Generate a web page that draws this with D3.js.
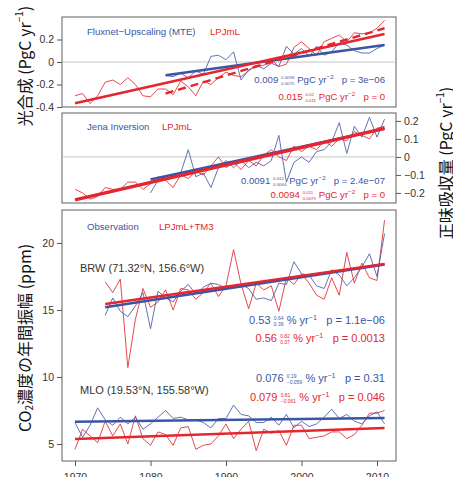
<!DOCTYPE html>
<html>
<head>
<meta charset="utf-8">
<script src="https://cdn.jsdelivr.net/npm/d3@7"></script>
<style>
  body { margin: 0; background: #fff; }
  svg { display: block; font-family: "Liberation Sans", Arial, sans-serif; }
</style>
</head>
<body>
<svg id="chart" width="453" height="477"></svg>
<script>
// ---- data ----
const years = [1970, 1975, 1980, 1985, 1990, 1995, 2000, 2005, 2010];
const xTickLabels = ['1970', '1980', '1990', '2000', '2010'];

// panel 1: photosynthesis anomaly (PgC/yr)
const lpjStart1 = 1970;
const lpjGpp = [-0.30, -0.28, -0.37, -0.30, -0.18, -0.16, -0.20, -0.14, -0.20, -0.30,
  -0.31, -0.24, -0.24, -0.29, -0.17, -0.22, -0.30, -0.17, -0.20, -0.14,
  -0.09, -0.12, -0.13, -0.08, -0.03, -0.03, 0.02, -0.04, -0.02, 0.13,
  0.18, 0.12, 0.06, 0.18, 0.21, 0.24, 0.18, 0.26, 0.25, 0.26, 0.30, 0.37];
const mteStart = 1982;
const mteGpp = [-0.12, -0.13, -0.10, -0.14, -0.08, -0.11, 0.05, 0.06, 0.02, 0.09,
  -0.16, -0.07, -0.03, -0.06, -0.01, -0.04, 0.14, 0.07, 0.12, 0.05,
  0.14, 0.06, 0.09, 0.17, 0.15, 0.10, 0.08, 0.08, 0.12, 0.15];
const trendLpjGpp = [[1970, -0.367], [2011, 0.248]];
const trendLpjGppShort = [[1982, -0.28], [2011, 0.30]];
const trendMte = [[1982, -0.118], [2011, 0.151]];
const ticks1 = [-0.4, -0.2, 0, 0.2];
const tickLabels1 = ['-0.4', '-0.2', '0', '0.2'];

// panel 2: net uptake (PgC/yr)
const lpjStart2 = 1970;
const lpjNep = [-0.18, -0.20, -0.235, -0.22, -0.17, -0.18, -0.18, -0.14, -0.14, -0.18,
  -0.15, -0.11, -0.13, -0.17, -0.10, -0.12, -0.08, -0.10, -0.05, 0.00,
  -0.06, -0.03, -0.07, -0.02, -0.05, 0.01, 0.04, 0.00, -0.02, 0.06,
  0.03, 0.06, 0.04, 0.09, 0.06, 0.10, 0.09, 0.14, 0.12, 0.10, 0.16, 0.17];
const jenaStart = 1980;
const jenaNep = [-0.20, -0.13, -0.11, -0.10, -0.09, 0.04, -0.11, -0.09, -0.17, -0.06,
  -0.02, -0.06, -0.02, -0.06, -0.03, -0.05, -0.02, 0.12, -0.14, -0.03,
  0.00, -0.03, 0.03, 0.04, 0.085, 0.19, 0.02, 0.17, 0.11, 0.22, 0.11, 0.21];
const trendLpjNep = [[1970, -0.239], [2011, 0.159]];
const trendJena = [[1980, -0.125], [2011, 0.157]];
const ticks2 = [-0.2, -0.1, 0, 0.1, 0.2];
const tickLabels2 = ['\u22120.2', '\u22120.1', '0', '0.1', '0.2'];

// panel 3: seasonal CO2 amplitude (ppm)
const brwStart = 1974;
const brwObs = [14.6, 15.9, 14.9, 14.5, 15.3, 16.3, 13.6, 16.4, 15.9, 15.6,
  16.4, 16.9, 16.2, 16.7, 17.0, 16.9, 16.6, 16.7, 16.9, 16.6,
  15.8, 15.9, 15.7, 17.0, 16.9, 18.6, 17.7, 17.6, 16.8, 16.6,
  18.0, 17.6, 16.8, 17.4, 18.2, 19.2, 17.5, 20.7];
const brwModel = [17.1, 16.3, 17.3, 10.7, 14.3, 16.6, 15.2, 15.6, 16.5, 15.0,
  16.6, 16.5, 15.8, 16.3, 17.0, 16.0, 16.8, 19.5, 16.9, 15.1,
  17.0, 16.5, 16.8, 14.9, 17.4, 16.9, 17.7, 17.0, 16.1, 15.8,
  17.4, 16.1, 19.3, 17.0, 18.5, 17.4, 17.2, 21.7];
const mloStart = 1970;
const mloObs = [6.6, 5.5, 6.4, 7.7, 6.8, 6.4, 7.0, 6.5, 7.0, 6.1,
  6.5, 7.0, 7.5, 6.9, 7.0, 6.8, 6.8, 6.6, 6.2, 6.9,
  6.9, 7.9, 7.2, 7.1, 6.6, 6.6, 7.0, 6.4, 7.2, 6.2,
  6.7, 6.3, 6.5, 7.0, 7.6, 6.9, 7.2, 6.7, 6.5, 7.1, 7.4, 6.5];
const mloModel = [4.6, 6.1, 5.6, 5.1, 6.7, 5.6, 6.5, 5.0, 7.1, 5.4,
  4.9, 5.9, 5.7, 4.9, 6.2, 6.3, 4.6, 4.9, 5.0, 5.6,
  6.5, 5.4, 6.1, 6.7, 4.5, 6.1, 5.8, 6.0, 4.9, 6.4,
  6.4, 5.4, 5.5, 5.6, 5.9, 5.9, 5.4, 5.7, 6.4, 7.3, 7.3, 7.5];
const trendBrwObs = [[1974, 15.2], [2011, 18.4]];
const trendBrwModel = [[1974, 15.45], [2011, 18.43]];
const trendMloObs = [[1970, 6.66], [2011, 6.94]];
const trendMloModel = [[1970, 5.37], [2011, 6.19]];
const ticks3 = [5, 10, 15, 20];

// ---- styling ----
const BLUE = '#3b55a5', RED = '#e3262f';
const BLUE_T = '#4f63a8', RED_T = '#e2343d';
const svg = d3.select('#chart');

const x = d3.scaleLinear().domain([1970, 2010]).range([75, 377]);
const left = 62, right = 396;

const y1 = d3.scaleLinear().domain([-0.4, 0.4]).range([107, 17]);
const y2 = d3.scaleLinear().domain([-0.256, 0.244]).range([203, 113]);
const y3 = d3.scaleLinear().domain([3.73, 22.46]).range([461, 210]);

function series(start, vals) { return vals.map((v, i) => [start + i, v]); }

function frame(y) {
  const [b, t] = y.range();
  svg.append('rect').attr('x', left).attr('y', t)
    .attr('width', right - left).attr('height', b - t)
    .attr('fill', '#fff').attr('stroke', '#6e6e6e').attr('stroke-width', 1.1);
}

function zero(y) {
  svg.append('line').attr('x1', left).attr('x2', right)
    .attr('y1', y(0)).attr('y2', y(0))
    .attr('stroke', '#c4c4c4').attr('stroke-width', 1);
}

function path(y, data, color, w, dash) {
  const line = d3.line().x(d => x(d[0])).y(d => y(d[1]));
  const p = svg.append('path').datum(data).attr('d', line)
    .attr('fill', 'none').attr('stroke', color).attr('stroke-width', w)
    .attr('stroke-linejoin', 'round');
  if (dash) p.attr('stroke-dasharray', dash);
}

function yAxis(y, ticks, labels, side) {
  const ax = (side === 'left' ? d3.axisLeft(y) : d3.axisRight(y))
    .tickValues(ticks).tickSize(5).tickPadding(3)
    .tickFormat((d, i) => labels[i]);
  const g = svg.append('g')
    .attr('transform', `translate(${side === 'left' ? left : right},0)`)
    .call(ax);
  g.select('.domain').remove();
  g.selectAll('line').attr('stroke', '#555');
  g.selectAll('text').attr('fill', '#333').style('font-size', '10.5px')
    .style('font-family', '"Liberation Sans", Arial, sans-serif');
}

function label(tx, ty, txt, color, size) {
  svg.append('text').attr('x', tx).attr('y', ty).attr('fill', color)
    .style('font-size', size + 'px').text(txt);
}

// stat line: main value, stacked small CI, unit with exponent, p value; right aligned
function stat(xr, yb, color, size, main, hi, lo, unit, exp, ptxt) {
  const g = svg.append('g').attr('fill', color);
  let cx = 0;
  const t1 = g.append('text').attr('x', cx).style('font-size', size + 'px').text(main);
  cx += t1.node().getComputedTextLength() + size * 0.3;
  const s = size * 0.45;
  const a = g.append('text').attr('x', cx).attr('y', -size * 0.38).style('font-size', s + 'px').text(hi);
  const b = g.append('text').attr('x', cx).attr('y', size * 0.22).style('font-size', s + 'px').text(lo);
  cx += Math.max(a.node().getComputedTextLength(), b.node().getComputedTextLength()) + size * 0.3;
  const t2 = g.append('text').attr('x', cx).style('font-size', size + 'px');
  t2.append('tspan').text(unit);
  t2.append('tspan').attr('dy', -size * 0.4).style('font-size', (size * 0.65) + 'px').text(exp);
  cx += t2.node().getComputedTextLength() + size * 0.85;
  const t3 = g.append('text').attr('x', cx).style('font-size', size + 'px').text(ptxt);
  cx += t3.node().getComputedTextLength();
  g.attr('transform', `translate(${xr - cx},${yb})`);
}

// ---- panel 1 ----
frame(y1);
zero(y1);
path(y1, series(lpjStart1, lpjGpp), RED_T, 0.9);
path(y1, series(mteStart, mteGpp), BLUE_T, 0.9);
path(y1, trendMte, BLUE, 2.4);
path(y1, trendLpjGppShort, RED, 2.4, '8,5');
path(y1, trendLpjGpp, RED, 2.6);
yAxis(y1, ticks1, tickLabels1, 'left');
label(87, 35, 'Fluxnet\u2212Upscaling (MTE)', BLUE, 9.6);
label(210, 35, 'LPJmL', RED, 9.6);
stat(385, 83, BLUE, 9.6, '0.009', '0.0098', '0.0075', 'PgC yr', '\u22122', 'p = 3e\u221206');
stat(385, 100, RED, 9.6, '0.015', '0.02', '0.011', 'PgC yr', '\u22122', 'p = 0');

// ---- panel 2 ----
frame(y2);
zero(y2);
path(y2, series(lpjStart2, lpjNep), RED_T, 0.9);
path(y2, series(jenaStart, jenaNep), BLUE_T, 0.9);
path(y2, trendJena, BLUE, 2.6);
path(y2, trendLpjNep, RED, 3.4);
yAxis(y2, ticks2, tickLabels2, 'right');
label(87, 130, 'Jena Inversion', BLUE, 9.6);
label(162, 130, 'LPJmL', RED, 9.6);
stat(385, 184, BLUE, 9.6, '0.0091', '0.012', '0.0064', 'PgC yr', '\u22122', 'p = 2.4e\u221207');
stat(385, 198, RED, 9.6, '0.0094', '0.011', '0.0079', 'PgC yr', '\u22122', 'p = 0');

// ---- panel 3 ----
frame(y3);
path(y3, series(brwStart, brwModel), RED_T, 0.9);
path(y3, series(brwStart, brwObs), BLUE_T, 0.9);
path(y3, series(mloStart, mloModel), RED_T, 0.9);
path(y3, series(mloStart, mloObs), BLUE_T, 0.9);
path(y3, trendBrwObs, BLUE, 2.6);
path(y3, trendBrwModel, RED, 2.6);
path(y3, trendMloObs, BLUE, 2.6);
path(y3, trendMloModel, RED, 2.6);
yAxis(y3, ticks3, ticks3.map(String), 'left');
label(87, 230, 'Observation', BLUE, 9.6);
label(159, 230, 'LPJmL+TM3', RED, 9.6);
label(80, 272, 'BRW (71.32\u00b0N, 156.6\u00b0W)', '#333', 11);
label(80, 394, 'MLO (19.53\u00b0N, 155.58\u00b0W)', '#333', 11);
stat(385, 324, BLUE, 11, '0.53', '0.64', '0.39', '% yr', '\u22121', 'p = 1.1e\u221206');
stat(385, 342, RED, 11, '0.56', '0.82', '0.37', '% yr', '\u22121', 'p = 0.0013');
stat(385, 382, BLUE, 11, '0.076', '0.19', '\u22120.059', '% yr', '\u22121', 'p = 0.31');
stat(385, 401, RED, 11, '0.079', '0.81', '\u22120.061', '% yr', '\u22121', 'p = 0.046');

// bottom axis
const xAx = svg.append('g').attr('transform', `translate(0,${y3.range()[0]})`)
  .call(d3.axisBottom(x).tickValues(years.filter((d, i) => i % 2 === 0))
    .tickSize(5).tickPadding(8).tickFormat((d, i) => xTickLabels[i]));
xAx.select('.domain').remove();
xAx.selectAll('line').attr('stroke', '#555');
xAx.selectAll('text').attr('fill', '#333').style('font-size', '10.5px')
  .style('font-family', '"Liberation Sans", Arial, sans-serif');

// axis titles
function vtitle(cx, cy, parts) {
  const t = svg.append('text')
    .attr('transform', `translate(${cx},${cy}) rotate(-90)`)
    .attr('text-anchor', 'middle').attr('dominant-baseline', 'central')
    .style('font-family', '"Noto Sans CJK JP", "Noto Sans", sans-serif')
    .style('font-size', '16px').attr('fill', '#111');
  parts.forEach(p => {
    const s = t.append('tspan').text(p.t);
    if (p.sup) s.attr('dy', -6).style('font-size', '10px');
    if (p.sub) s.attr('dy', 4).style('font-size', '10px');
    if (p.back) s.attr('dy', p.back);
  });
}
vtitle(24, 66, [{ t: '光合成 (PgC yr' }, { t: '\u22121', sup: true }, { t: ')', back: 6 }]);
vtitle(445, 163, [{ t: '正味吸収量 (PgC yr' }, { t: '\u22121', sup: true }, { t: ')', back: 6 }]);
vtitle(24, 338, [{ t: 'CO' }, { t: '2', sub: true }, { t: '濃度の年間振幅 (ppm)', back: -4 }]);
</script>
</body>
</html>
